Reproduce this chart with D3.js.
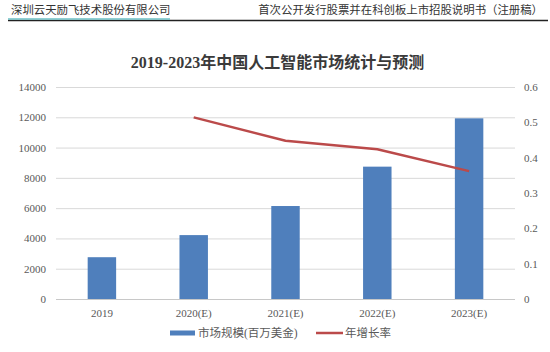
<!DOCTYPE html>
<html>
<head>
<meta charset="utf-8">
<script src="https://cdn.jsdelivr.net/npm/d3@7"></script>
<style>
  body { margin: 0; background: #fff; }
  svg { display: block; }
</style>
</head>
<body>
<div id="chart"></div>
<script>
// values
var categories = ["2019", "2020(E)", "2021(E)", "2022(E)", "2023(E)"];
var marketSize = [2760, 4220, 6140, 8740, 11930];
var growthRate = [null, 0.514, 0.448, 0.424, 0.362];
var leftTicks = [0, 2000, 4000, 6000, 8000, 10000, 12000, 14000];
var rightTicks = [0, 0.1, 0.2, 0.3, 0.4, 0.5, 0.6];
var seriesNames = ["市场规模(百万美金)", "年增长率"];
var headerLeft = "深圳云天励飞技术股份有限公司";
var headerRight = "首次公开发行股票并在科创板上市招股说明书（注册稿）";
var title = "2019-2023年中国人工智能市场统计与预测";

var W = 550, H = 352;
var plot = {left: 56, right: 515, top: 87, bottom: 299};
var barColor = "#4f7fbc", lineColor = "#bb4a4a";
var serif = "'Liberation Serif', 'DejaVu Serif', 'Noto Sans CJK SC', serif";

var svg = d3.select("#chart").append("svg")
    .attr("width", W)
    .attr("height", H);

svg.append("rect").attr("width", W).attr("height", H).attr("fill", "#fff");

// page header
svg.append("text")
    .attr("x", 11).attr("y", 14)
    .style("font-family", serif).style("font-size", "11.4px")
    .attr("fill", "#333")
    .text(headerLeft);

svg.append("text")
    .attr("x", 543).attr("y", 14)
    .attr("text-anchor", "end")
    .style("font-family", serif).style("font-size", "11.4px")
    .attr("fill", "#333")
    .text(headerRight);

svg.append("line")
    .attr("x1", 8).attr("x2", 548).attr("y1", 20.5).attr("y2", 20.5)
    .attr("stroke", "#222").attr("stroke-width", 1.5);
svg.append("line")
    .attr("x1", 8).attr("x2", 170).attr("y1", 19).attr("y2", 19)
    .attr("stroke", "#6cc0c6").attr("stroke-width", 1.5);

// title
svg.append("text")
    .attr("x", 277.5).attr("y", 68)
    .attr("text-anchor", "middle")
    .style("font-family", serif).style("font-size", "16px").style("font-weight", "bold")
    .attr("fill", "#3a3a3a")
    .text(title);

var x = d3.scaleBand()
    .domain(categories)
    .range([plot.left, plot.right])
    .paddingInner(0.69)
    .paddingOuter(0.345);

var yL = d3.scaleLinear().domain([0, 14000]).range([plot.bottom, plot.top]);
var yR = d3.scaleLinear().domain([0, 0.6]).range([plot.bottom, plot.top]);

var g = svg.append("g");

// gridlines
g.selectAll(".grid")
    .data(leftTicks.slice(1))
    .enter().append("line")
    .attr("class", "grid")
    .attr("x1", plot.left).attr("x2", plot.right)
    .attr("y1", function (d) { return yL(d) + 0.5; })
    .attr("y2", function (d) { return yL(d) + 0.5; })
    .attr("stroke", "#d9d9d9").attr("stroke-width", 1);

g.append("line")
    .attr("x1", plot.left).attr("x2", plot.right)
    .attr("y1", yL(0) + 0.5).attr("y2", yL(0) + 0.5)
    .attr("stroke", "#c8c8c8").attr("stroke-width", 1);

// axes
var axisL = g.append("g")
    .attr("transform", "translate(" + plot.left + ",0)")
    .call(d3.axisLeft(yL).tickValues(leftTicks).tickSize(0).tickPadding(10)
        .tickFormat(function (d) { return d; }));

var axisR = g.append("g")
    .attr("transform", "translate(" + plot.right + ",0)")
    .call(d3.axisRight(yR).tickValues(rightTicks).tickSize(0).tickPadding(9)
        .tickFormat(function (d) { return d === 0 ? "0" : d3.format(".1f")(d); }));

var axisX = g.append("g")
    .attr("transform", "translate(0," + plot.bottom + ")")
    .call(d3.axisBottom(x).tickSize(0).tickPadding(10));

[axisL, axisR, axisX].forEach(function (a) {
    a.select(".domain").remove();
    a.selectAll("text")
        .style("font-family", serif)
        .style("font-size", "11px")
        .attr("fill", "#595959");
});

// bars
g.selectAll(".bar")
    .data(categories)
    .enter().append("rect")
    .attr("class", "bar")
    .attr("x", function (d) { return x(d); })
    .attr("y", function (d, i) { return yL(marketSize[i]); })
    .attr("width", x.bandwidth())
    .attr("height", function (d, i) { return yL(0) - yL(marketSize[i]); })
    .attr("fill", barColor);

// growth line
var lineData = categories.map(function (c, i) { return {cat: c, v: growthRate[i]}; })
    .filter(function (d) { return d.v !== null; });

var line = d3.line()
    .x(function (d) { return x(d.cat) + x.bandwidth() / 2; })
    .y(function (d) { return yR(d.v); });

g.append("path")
    .datum(lineData)
    .attr("d", line)
    .attr("fill", "none")
    .attr("stroke", lineColor)
    .attr("stroke-width", 2.5)
    .attr("stroke-linejoin", "round");

// legend
var legend = svg.append("g").attr("transform", "translate(170,333)");
legend.append("rect")
    .attr("x", 0).attr("y", -2.5).attr("width", 25).attr("height", 5)
    .attr("fill", barColor);
legend.append("text")
    .attr("x", 28).attr("y", 4)
    .style("font-family", serif).style("font-size", "11.5px")
    .attr("fill", "#595959")
    .text(seriesNames[0]);
legend.append("line")
    .attr("x1", 146).attr("x2", 173).attr("y1", 0).attr("y2", 0)
    .attr("stroke", lineColor).attr("stroke-width", 2.5);
legend.append("text")
    .attr("x", 175).attr("y", 4)
    .style("font-family", serif).style("font-size", "11.5px")
    .attr("fill", "#595959")
    .text(seriesNames[1]);
</script>
</body>
</html>
